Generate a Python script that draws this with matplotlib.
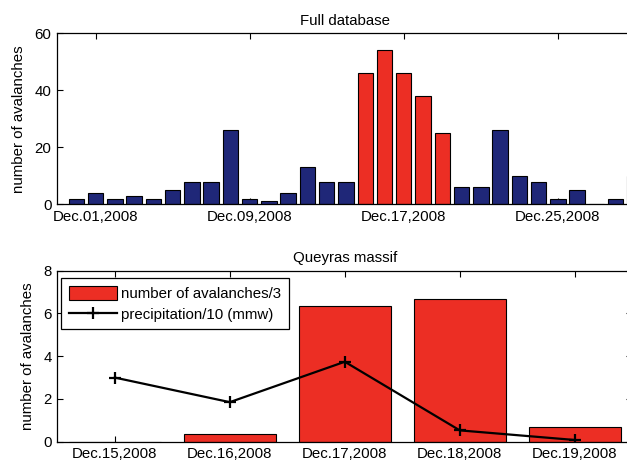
import matplotlib
matplotlib.use("Agg")
import matplotlib.pyplot as plt
import matplotlib.dates as mdates
import pandas as pd

# ---- data: full database (daily avalanche counts) ----
full_dates = pd.date_range("2008-11-30", "2008-12-29", freq="D")
full_counts = [2, 4, 2, 3, 2, 5, 8, 8, 26, 2, 1, 4, 13, 8, 8,
               46, 54, 46, 38, 25, 6, 6, 26, 10, 8, 2, 5, 0, 2, 10]
highlight_dates = pd.date_range("2008-12-15", "2008-12-19", freq="D")
full_ticks = ["2008-12-01", "2008-12-09", "2008-12-17", "2008-12-25"]
full_yticks = [0, 20, 40, 60]

# ---- data: Queyras massif ----
q_dates = pd.date_range("2008-12-15", "2008-12-19", freq="D")
q_avalanches_div3 = [0.0, 0.37, 6.33, 6.67, 0.67]
q_precip_div10 = [3.0, 1.85, 3.74, 0.53, 0.08]
q_yticks = [0, 2, 4, 6, 8]

RED = "#ec2e24"
BLUE = "#1f2778"
FS = 10.8

plt.rcParams["font.family"] = ["Liberation Sans", "DejaVu Sans"]
plt.rcParams["font.size"] = FS

fig = plt.figure(figsize=(6.27, 4.63), dpi=100)
W, H = 627.0, 463.0

def add_axes(left_px, top_px, right_px, bottom_px):
    return fig.add_axes([left_px / W, 1 - bottom_px / H,
                         (right_px - left_px) / W, (bottom_px - top_px) / H])

def style(ax):
    ax.set_axisbelow(True)
    ax.tick_params(direction="in", length=4, width=0.8, top=True, right=True,
                   labelsize=FS, pad=4, colors="black")
    for s in ax.spines.values():
        s.set_linewidth(0.9)
        s.set_color("black")

# ---- top panel ----
ax1 = add_axes(57, 33.3, 634, 204.3)
xs = mdates.date2num(full_dates)
hl = set(mdates.date2num(highlight_dates))
colors = [RED if x in hl else BLUE for x in xs]
ax1.bar(xs, full_counts, width=0.8, color=colors, edgecolor="black", linewidth=0.8)
x0 = mdates.date2num(pd.Timestamp("2008-11-29"))
ax1.set_xlim(x0, x0 + 29.95)
ax1.set_ylim(0, 60)
ax1.set_yticks(full_yticks)
ax1.set_xticks(mdates.date2num(pd.to_datetime(full_ticks)))
ax1.xaxis.set_major_formatter(mdates.DateFormatter("%b.%d,%Y"))
ax1.set_ylabel("number of avalanches", labelpad=6)
ax1.set_title("Full database", fontsize=FS, pad=6)
style(ax1)

# ---- bottom panel ----
ax2 = add_axes(57.3, 270.7, 632.3, 441.7)
qx = mdates.date2num(q_dates)
bars = ax2.bar(qx, q_avalanches_div3, width=0.8, color=RED, edgecolor="black",
               linewidth=0.8, label="number of avalanches/3")
line, = ax2.plot(qx, q_precip_div10, color="black", linewidth=1.6, marker="+",
                 markersize=9, markeredgewidth=1.6, label="precipitation/10 (mmw)")
ax2.set_xlim(qx[0] - 0.5, qx[-1] + 0.5)
ax2.set_ylim(0, 8)
ax2.set_yticks(q_yticks)
ax2.set_xticks(qx)
ax2.xaxis.set_major_formatter(mdates.DateFormatter("%b.%d,%Y"))
ax2.set_ylabel("number of avalanches", labelpad=6)
ax2.set_title("Queyras massif", fontsize=FS, pad=6)
style(ax2)
leg = ax2.legend([bars, line], ["number of avalanches/3", "precipitation/10 (mmw)"],
                 loc="upper left", bbox_to_anchor=(0.007, 0.957), borderaxespad=0,
                 frameon=True, fancybox=False, edgecolor="black", framealpha=1,
                 handlelength=3.2, handleheight=1.15, handletextpad=0.3,
                 borderpad=0.5, labelspacing=0.35, fontsize=FS)
leg.get_frame().set_linewidth(0.9)

fig.savefig("out.png", dpi=100)
